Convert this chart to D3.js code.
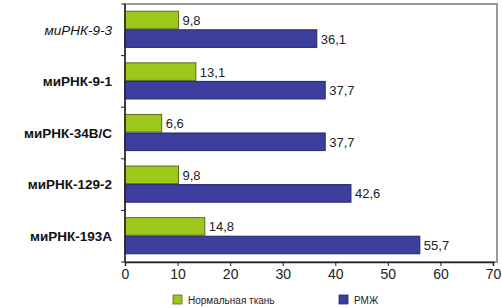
<!DOCTYPE html>
<html>
<head>
<meta charset="utf-8">
<script src="https://cdn.jsdelivr.net/npm/d3@7"></script>
<style>
  html, body { margin: 0; padding: 0; background: #fff; }
  svg { display: block; font-family: "Liberation Sans", Arial, sans-serif; }
</style>
</head>
<body>
<div id="chart"></div>
<script>
const categories = ['миРНК-9-3', 'миРНК-9-1', 'миРНК-34B/C', 'миРНК-129-2', 'миРНК-193A'];
const seriesNames = ['Нормальная ткань', 'РМЖ'];
const normalValues = [9.8, 13.1, 6.6, 9.8, 14.8];
const rmzhValues = [36.1, 37.7, 37.7, 42.6, 55.7];
const xTicks = [0, 10, 20, 30, 40, 50, 60, 70];

const width = 502, height = 308;
const margin = { top: 4, right: 9, bottom: 46, left: 125 };

const fills = ['#9dc81b', '#3c3f9e'];
const strokes = ['#5b6f1c', '#23266b'];

const svg = d3.select('#chart').append('svg')
    .attr('width', width)
    .attr('height', height);

const x = d3.scaleLinear()
    .domain([0, 70])
    .range([margin.left, width - margin.right]);

const y = d3.scaleBand()
    .domain(categories)
    .range([margin.top, height - margin.bottom])
    .paddingInner(0.28)
    .paddingOuter(0.14);

const ySub = d3.scaleBand()
    .domain(seriesNames)
    .range([0, y.bandwidth()]);

// рамка области графика
svg.append('rect')
    .attr('x', margin.left)
    .attr('y', margin.top)
    .attr('width', width - 5 - margin.left)
    .attr('height', height - margin.bottom - margin.top)
    .attr('fill', 'none')
    .attr('stroke', '#9a9a9a')
    .attr('stroke-width', 2);

const rows = categories.map((c, i) => ({ cat: c, vals: [normalValues[i], rmzhValues[i]] }));

const groups = svg.append('g').selectAll('g')
    .data(rows)
    .join('g')
    .attr('transform', d => `translate(0,${y(d.cat)})`);

groups.selectAll('rect')
    .data(d => d.vals.map((v, k) => ({ v, k })))
    .join('rect')
    .attr('x', x(0))
    .attr('y', d => ySub(seriesNames[d.k]))
    .attr('width', d => x(d.v) - x(0) + 2)
    .attr('height', ySub.bandwidth() - 1)
    .attr('fill', d => fills[d.k])
    .attr('stroke', d => strokes[d.k])
    .attr('stroke-width', 1);

groups.selectAll('text.val')
    .data(d => d.vals.map((v, k) => ({ v, k })))
    .join('text')
    .attr('class', 'val')
    .attr('x', d => x(d.v) + 6)
    .attr('y', d => ySub(seriesNames[d.k]) + ySub.bandwidth() / 2)
    .attr('dy', '0.35em')
    .style('font-size', '13px')
    .attr('fill', '#222')
    .text(d => d.v.toFixed(1).replace('.', ','));

// ось X
const xAxis = svg.append('g')
    .attr('transform', `translate(0,${height - margin.bottom})`)
    .call(d3.axisBottom(x).tickValues(xTicks).tickSize(4).tickPadding(3));
xAxis.select('.domain').attr('stroke', '#222').attr('stroke-width', 1.5);
xAxis.selectAll('.tick line').attr('stroke', '#222');
xAxis.selectAll('.tick text')
    .style('font-size', '14px')
    .attr('fill', '#222');

// ось Y: засечки на границах категорий
const yAxis = svg.append('g')
    .attr('transform', `translate(${margin.left},0)`);
yAxis.append('line')
    .attr('y1', margin.top)
    .attr('y2', height - margin.bottom)
    .attr('stroke', '#222')
    .attr('stroke-width', 1.5);
const bounds = d3.range(categories.length + 1).map(i => margin.top + i * y.step());
yAxis.selectAll('line.tk')
    .data(bounds)
    .join('line')
    .attr('class', 'tk')
    .attr('x1', -4)
    .attr('x2', 0)
    .attr('y1', d => d)
    .attr('y2', d => d)
    .attr('stroke', '#222');

yAxis.selectAll('text')
    .data(categories)
    .join('text')
    .attr('x', -13)
    .attr('y', d => y(d) + y.bandwidth() / 2)
    .attr('dy', '0.35em')
    .attr('text-anchor', 'end')
    .style('font-size', '13.5px')
    .style('font-weight', (d, i) => i === 0 ? 'normal' : 'bold')
    .style('font-style', (d, i) => i === 0 ? 'italic' : 'normal')
    .attr('fill', '#111')
    .text(d => d);

// легенда
const legendX = [173, 339];
const legend = svg.append('g').selectAll('g')
    .data(seriesNames)
    .join('g')
    .attr('transform', (d, i) => `translate(${legendX[i]},295)`);
legend.append('rect')
    .attr('width', 9)
    .attr('height', 9)
    .attr('fill', (d, i) => fills[i])
    .attr('stroke', (d, i) => strokes[i])
    .attr('stroke-width', 0.8);
legend.append('text')
    .attr('x', 15)
    .attr('y', 5)
    .attr('dy', '0.35em')
    .style('font-size', '10px')
    .attr('fill', '#222')
    .text(d => d);
</script>
</body>
</html>
